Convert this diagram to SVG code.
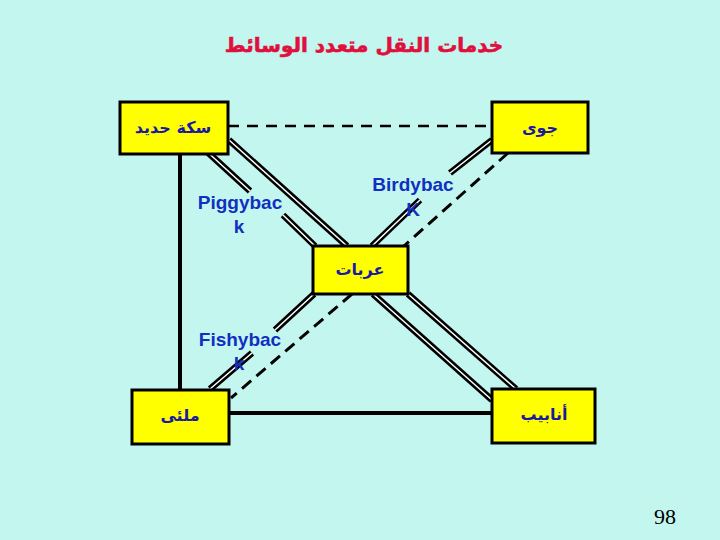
<svg xmlns="http://www.w3.org/2000/svg" width="720" height="540" viewBox="0 0 720 540">
<style>
.box{fill:#FFFF00;stroke:#000;stroke-width:3}
.ar{font-family:"DejaVu Sans",sans-serif;font-weight:bold;font-size:16px;fill:#1A1AA0;text-anchor:middle}
.lbl{font-family:"Liberation Sans",Arial,sans-serif;font-weight:bold;font-size:19px;fill:#1030C0;text-anchor:middle}
.solid{stroke:#000;stroke-width:4;fill:none}
.dash{stroke:#000;stroke-width:2.5;fill:none;stroke-dasharray:11 8}
.ddash{stroke:#000;stroke-width:3;fill:none;stroke-dasharray:12 7}
.rail{stroke:#000;stroke-width:6.5;fill:none}
.railc{stroke:#fff;stroke-width:1.5;fill:none}
</style>
<rect width="720" height="540" fill="#C4F6F0"/>
<text x="364" y="52" font-family="'DejaVu Sans',sans-serif" font-weight="bold" font-size="20" fill="#E0103C" stroke="#E0103C" stroke-width="0.6" text-anchor="middle">خدمات النقل متعدد الوسائط</text>
<g id="connectors">
<line class="dash" x1="228" y1="126" x2="492" y2="126"/>
<line class="solid" x1="180" y1="154" x2="180" y2="390"/>
<line class="solid" x1="229" y1="413" x2="492" y2="413"/>
<line class="ddash" x1="508" y1="153" x2="404" y2="246"/>
<line class="ddash" x1="352" y1="294" x2="231" y2="398"/>
<g id="rails">
<path class="rail" d="M203,148 L250,191 M283,215 L315,246"/>
<path class="railc" d="M203,148 L250,191 M283,215 L315,246"/>
<path class="rail" d="M229,140 L347,246"/>
<path class="railc" d="M229,140 L347,246"/>
<path class="rail" d="M492,140 L450,173 M420,200 L372,246"/>
<path class="railc" d="M492,140 L450,173 M420,200 L372,246"/>
<path class="rail" d="M314,294 L275,330 M252,353 L210,389"/>
<path class="railc" d="M314,294 L275,330 M252,353 L210,389"/>
<path class="rail" d="M373,294 L492,400"/>
<path class="railc" d="M373,294 L492,400"/>
<path class="rail" d="M408,294 L516,389"/>
<path class="railc" d="M408,294 L516,389"/>
</g>
</g>
<g id="rail-node"><rect class="box" x="120" y="102" width="108" height="52"/><text class="ar" x="173" y="133">سكة حديد</text></g>
<g id="air-node"><rect class="box" x="492" y="102" width="96" height="51"/><text class="ar" x="540" y="133">جوى</text></g>
<g id="truck-node"><rect class="box" x="313" y="246" width="95" height="48"/><text class="ar" x="360" y="275">عربات</text></g>
<g id="water-node"><rect class="box" x="132" y="390" width="97" height="54"/><text class="ar" x="180" y="421">ملئى</text></g>
<g id="pipe-node"><rect class="box" x="492" y="389" width="103" height="54"/><text class="ar" x="544" y="420">أنابيب</text></g>
<g id="labels">
<text class="lbl" x="240" y="209">Piggybac</text><text class="lbl" x="239" y="233">k</text>
<text class="lbl" x="413" y="191">Birdybac</text><text class="lbl" x="413" y="216">K</text>
<text class="lbl" x="240" y="346">Fishybac</text><text class="lbl" x="239" y="370">k</text>
</g>
<text x="665" y="524" font-family="'Liberation Serif',serif" font-size="22" fill="#000" text-anchor="middle">98</text>
</svg>
